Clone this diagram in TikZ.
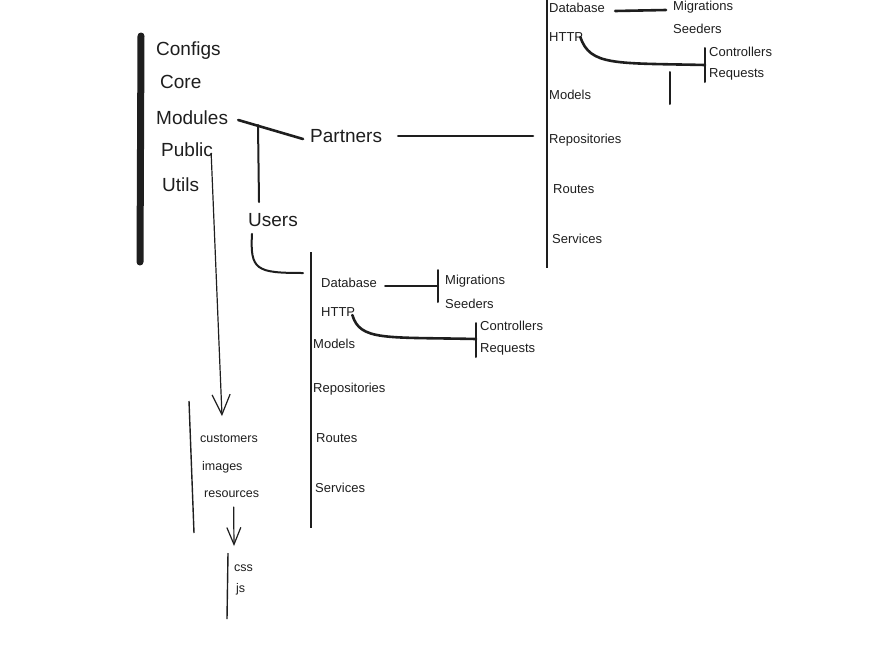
\documentclass[tikz,border=0pt]{standalone}
\usepackage{fontspec}
\setmainfont{Liberation Sans}
\usepackage{xcolor}
\usetikzlibrary{arrows.meta, positioning}

\definecolor{ink}{HTML}{1E1E1E}

\begin{document}
\begin{tikzpicture}[
    x=1pt, y=-1pt,
    color=ink,
    big/.style={anchor=west, inner sep=0pt,
        font=\fontsize{19}{21}\selectfont},
    small/.style={anchor=west, inner sep=0pt,
        font=\fontsize{13}{15}\selectfont},
    plain/.style={anchor=west, inner sep=0pt,
        font=\fontsize{12.5}{14}\selectfont},
    bar/.style={line width=2pt, line cap=round},
    stroke/.style={line width=2.6pt, line cap=round},
    arrow/.style={-{Straight Barb[length=20pt, width=18pt]}, line width=1.2pt},
    smallarrow/.style={-{Straight Barb[length=17pt, width=14pt]}, line width=1.2pt}
]
\useasboundingbox (0,0) rectangle (875,656);

% root folders
\node[big] (configs) at (156,51) {Configs};
\node[big] (core) at (160,82) {Core};
\node[big] (modules) at (156,118) {Modules};
\node[big] (public) at (161,150) {Public};
\node[big] (utils) at (162,185) {Utils};
\coordinate (roottop) at (141,36);
\coordinate (rootbot) at (140,262);
\draw[line width=7pt, line cap=round] (roottop) -- (rootbot);

% modules
\node[big] (partners) at (310,136) {Partners};
\node[big] (users) at (248,220) {Users};
\coordinate (mjoin) at (258,125);
\coordinate (mstem) at (259,202);
\draw[stroke] ([shift={(10,2)}]modules.east) -- ([shift={(-7,3)}]partners.west);
\draw[bar] (mjoin) -- (mstem);

% partners module
\coordinate (ptop) at (547,0);
\coordinate (pbot) at (547,268);
\draw[line width=2.6pt] (ptop) -- (pbot);
\draw[stroke, shorten <=16pt, shorten >=14pt] (partners.east) -- (partners.east -| pbot);

\node[small] (pdb) at (549,8) {Database};
\node[small] (phttp) at (549,37) {HTTP};
\node[small] (pmodels) at (549,95) {Models};
\node[small] (prepos) at (549,140) {Repositories};
\node[small] (proutes) at (553,189) {Routes};
\node[small] (pservices) at (552,239) {Services};

\node[small] (pmig) at (673,7) {Migrations};
\node[small] (pseed) at (673,29) {Seeders};
\draw[stroke] ([shift={(10,3)}]pdb.east) -- ([shift={(-7,3)}]pmig.west);

\node[small] (pctl) at (709,52) {Controllers};
\node[small] (preq) at (709,74) {Requests};
\coordinate (phtop) at (705,48);
\coordinate (phbot) at (705,82);
\coordinate (phjoin) at (705,65);
\draw[bar] (phtop) -- (phbot);
\draw[stroke] ([xshift=-3pt]phttp.east) .. controls (590,66) and (615,63) .. (phjoin);
\coordinate (pstraytop) at (670,72);
\coordinate (pstraybot) at (670,104);
\draw[bar] (pstraytop) -- (pstraybot);

% users module
\coordinate (utop) at (311,252);
\coordinate (ubot) at (311,528);
\draw[line width=2.4pt] (utop) -- (ubot);
\coordinate (ujoin) at (303,273);
\draw[bar] ([shift={(4,7)}]users.south west) .. controls (250,270) and (256,273) .. (ujoin);

\node[small] (udb) at (321,283) {Database};
\node[small] (uhttp) at (321,312) {HTTP};
\node[small] (umodels) at (313,344) {Models};
\node[small] (urepos) at (313,389) {Repositories};
\node[small] (uroutes) at (316,438) {Routes};
\node[small] (uservices) at (315,488) {Services};

\node[small] (umig) at (445,281) {Migrations};
\node[small] (useed) at (445,304) {Seeders};
\coordinate (udtop) at (438,270);
\coordinate (udbot) at (438,302);
\coordinate (udjoin) at (438,286);
\draw[bar] (udtop) -- (udbot);
\draw[bar] ([shift={(8,3)}]udb.east) -- (udjoin);

\node[small] (uctl) at (480,326) {Controllers};
\node[small] (ureq) at (480,349) {Requests};
\coordinate (uhtop) at (476,323);
\coordinate (uhbot) at (476,357);
\coordinate (uhjoin) at (476,339);
\draw[bar] (uhtop) -- (uhbot);
\draw[stroke] ([shift={(-3,3)}]uhttp.east) .. controls (360,341) and (385,337) .. (uhjoin);

% public folder
\coordinate (pubtip) at (222,416);
\draw[arrow] ([shift={(-2,3)}]public.east) -- (pubtip);
\coordinate (pubtop) at (189,401);
\coordinate (pubbot) at (194,533);
\draw[line width=1.4pt] (pubtop) -- (pubbot);

\node[plain] (customers) at (200,439) {customers};
\node[plain] (images) at (202,467) {images};
\node[plain] (resources) at (204,494) {resources};

\coordinate (restip) at (234,546);
\draw[smallarrow] ([shift={(2,9)}]resources.south) -- (restip);
\coordinate (restop) at (228,553);
\coordinate (resbot) at (227,619);
\draw[line width=1.4pt] (restop) -- (resbot);

\node[plain] (css) at (234,568) {css};
\node[plain] (js) at (236,589) {js};

\end{tikzpicture}
\end{document}
